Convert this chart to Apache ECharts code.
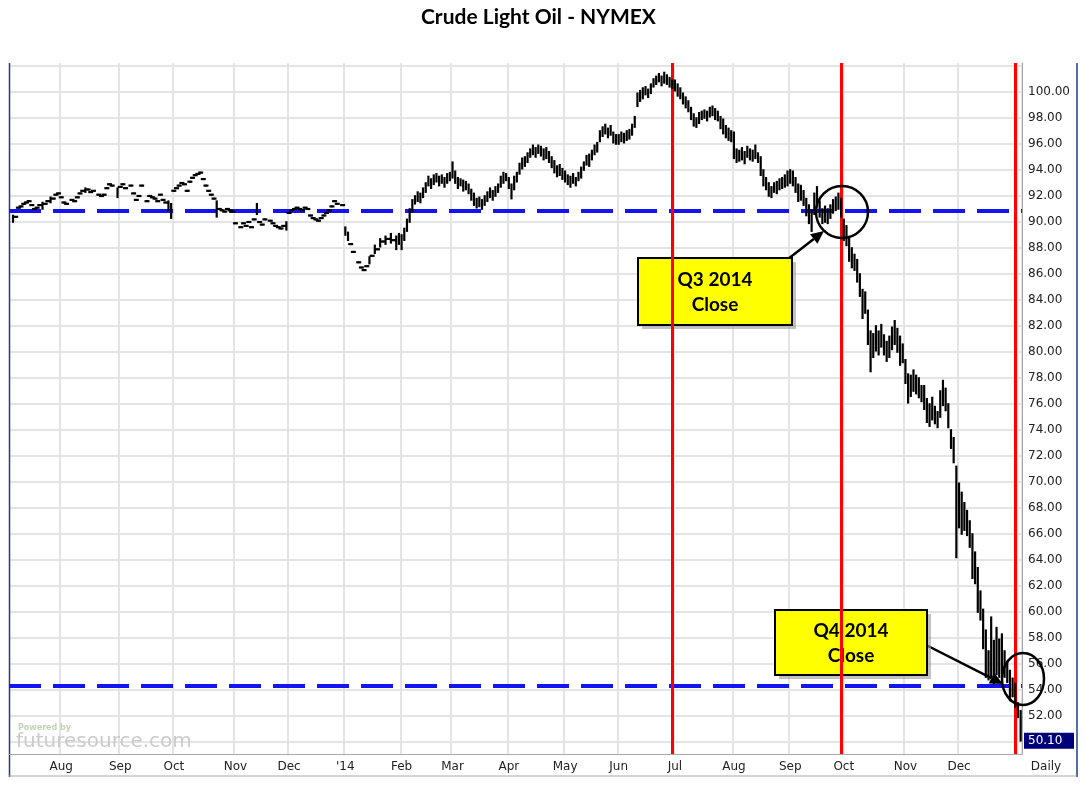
<!DOCTYPE html>
<html>
<head>
<meta charset="utf-8">
<title>Crude Light Oil - NYMEX</title>
<script src="https://cdn.jsdelivr.net/npm/echarts@6/dist/echarts.min.js"></script>
<style>
html, body { margin: 0; padding: 0; background: #fff; }
#main { width: 1086px; height: 785px; }
</style>
</head>
<body>
<div id="main"></div>
<script>
// daily bars per month: number = single print, [low, high] = range, null = no trade
var jul13 = [null, [90.0, 90.5], 90.4, 91.1, 91.2, 91.4, 91.5, 91.6, 91.3, 91.0, 91.1, 91.3, [91.0, 91.5], 91.4, 91.6, [91.5, 91.9], 91.8, 92.1, 92.2];
var aug13 = [91.9, 91.5, 91.4, null, 91.7, 91.6, 91.9, 92.2, 92.4, [92.3, 92.6], 92.5, 92.3, 92.4, null, 92.1, 92.0, 92.1, 92.6, 92.9, 92.8, null, [91.9, 92.6]];
var sep13 = [92.7, 92.9, 92.6, null, 92.8, 92.2, 91.7, 92.0, 92.8, null, 91.6, 92.0, 91.9, 91.8, 91.6, 92.1, 91.7, 91.5, [90.9, 91.6], [90.3, 91.4]];
var oct13 = [92.4, 92.6, 92.8, 93.0, 92.9, 92.4, 93.1, 93.4, 93.6, 93.7, 93.8, 93.3, 92.8, 92.4, 92.1, 91.8, [90.4, 91.6], 91.0, 90.9, 90.8, 91.0, 90.9, 90.8];
var nov13 = [89.9, null, 89.6, 89.9, 89.7, 90.0, 89.6, 90.2, [90.6, 91.4], 90.0, 89.8, 90.2, null, 90.1, 89.9, 89.7, 89.6, 89.5, 89.7, [89.4, 90.0]];
var dec13 = [90.7, 90.9, 91.0, 91.1, 91.0, 90.9, 91.1, 91.0, 90.5, 90.3, 90.2, 90.1, 90.3, 90.5, 90.7, 90.9, 91.2, 91.6, 91.4, null, 91.3];
var jan14 = [[89.0, 89.6], [88.6, 89.2], 88.3, 87.7, null, 86.9, 86.5, 86.3, 86.6, [86.8, 87.3], 87.4, [87.6, 88.2], 87.9, [88.1, 88.7], 88.5, [88.3, 88.9], 88.7, [88.4, 89.1], 88.6, [87.9, 88.9], [88.3, 89.1]];
var feb14 = [[87.9, 89.0], [88.6, 89.5], [89.3, 90.2], [90.0, 91.0], [90.8, 91.7], [91.4, 92.0], [91.6, 92.3], [91.5, 92.2], [91.9, 92.6], [92.3, 93.0], [92.8, 93.5], [92.6, 93.3], [92.9, 93.6], [93.1, 93.7], [92.8, 93.5], [93.0, 93.6], [92.7, 93.4], [93.0, 93.7], [93.2, 93.8]];
var mar14 = [[93.4, 94.6], [93.0, 93.9], [92.6, 93.4], [92.8, 93.3], [92.4, 93.2], [92.5, 93.1], [92.2, 92.9], [91.7, 92.5], [91.3, 92.2], [91.1, 91.8], [91.2, 91.9], [91.0, 91.7], [91.3, 92.0], [91.6, 92.3], [91.9, 92.6], [91.7, 92.4], [92.0, 92.7], [92.3, 92.9], [92.7, 93.5], [93.0, 93.8], [93.2, 93.7]];
var apr14 = [[92.6, 93.4], [91.8, 92.9], [92.5, 93.5], [93.1, 93.8], [93.7, 94.5], [94.1, 94.9], [94.3, 95.0], [94.6, 95.3], [95.0, 95.6], [95.2, 95.9], [95.0, 95.7], [95.3, 95.9], [95.1, 95.8], [94.8, 95.6], [94.9, 95.7], [94.6, 95.4], [94.2, 95.0], [93.8, 94.7], [93.5, 94.3], [93.6, 94.4], [93.3, 94.1]];
var may14 = [[93.1, 93.9], [92.9, 93.6], [92.7, 93.5], [93.0, 93.7], [92.8, 93.4], [93.2, 93.8], [93.4, 94.2], [94.0, 94.6], [94.4, 95.1], [94.3, 95.2], [94.8, 95.5], [95.2, 95.9], [95.4, 96.1], [96.2, 97.0], [96.6, 97.3], [96.8, 97.5], [96.5, 97.2], [96.7, 97.4], [96.1, 96.9], [96.0, 96.7]];
var jun14 = [[96.0, 96.7], [96.2, 96.9], [96.1, 96.8], [96.3, 97.0], [96.4, 97.1], [96.7, 97.5], [97.3, 98.1], [98.9, 99.9], [99.3, 100.1], [99.5, 100.3], [99.8, 100.4], [99.6, 100.2], [99.9, 100.6], [100.4, 101.0], [100.6, 101.2], [100.8, 101.4], [100.5, 101.2], [100.7, 101.5], [100.6, 101.3], [100.4, 101.1], [100.3, 100.9]];
var jul14 = [[100.1, 100.9], [99.7, 100.6], [99.5, 100.3], [99.1, 99.9], [98.8, 99.6], [98.5, 99.3], [97.9, 98.8], [97.4, 98.3], [97.3, 98.0], [97.6, 98.4], [97.9, 98.5], [98.0, 98.6], [97.8, 98.5], [98.1, 98.8], [98.2, 98.9], [97.9, 98.7], [97.8, 98.5], [97.2, 98.1], [96.8, 97.9], [96.5, 97.4], [96.3, 97.2], [96.2, 97.0]];
var aug14 = [[94.9, 96.9], [94.6, 95.6], [94.7, 95.5], [94.8, 95.7], [94.5, 95.4], [95.0, 95.8], [94.8, 95.6], [94.7, 95.5], [94.9, 95.9], [94.6, 95.3], [93.6, 95.0], [92.8, 94.0], [92.5, 93.4], [92.0, 93.0], [91.9, 92.7], [92.3, 93.0], [92.2, 93.1], [92.5, 93.3], [92.6, 93.4], [92.7, 93.6], [92.8, 93.9]];
var sep14 = [[93.0, 94.0], [92.8, 93.9], [92.3, 93.4], [91.6, 92.9], [91.7, 92.8], [91.3, 92.4], [90.5, 91.8], [89.9, 91.3], [89.3, 90.9], [90.6, 92.2], [91.2, 92.7], [90.4, 91.6], [89.9, 91.0], [90.0, 91.2], [89.9, 91.0], [90.3, 91.3], [90.7, 91.7], [90.9, 91.9], [91.0, 92.2], [90.4, 91.8]];
var oct14 = [[88.6, 90.2], [88.2, 89.7], [87.0, 88.8], [86.5, 88.0], [86.3, 87.5], [85.4, 87.1], [84.3, 86.0], [82.6, 84.8], [83.0, 84.6], [80.6, 83.2], [78.5, 81.6], [79.6, 81.4], [80.1, 82.0], [79.8, 81.6], [80.4, 82.1], [79.8, 81.3], [79.3, 80.8], [79.6, 81.2], [80.2, 81.9], [80.6, 82.4], [80.0, 81.8], [79.0, 81.2], [79.2, 80.6]];
var nov14 = [[77.6, 79.4], [76.1, 78.3], [76.6, 78.2], [77.0, 78.6], [76.8, 78.2], [76.5, 78.0], [76.2, 77.4], [75.6, 77.4], [74.6, 76.4], [74.3, 76.0], [74.8, 76.5], [74.5, 75.8], [74.2, 75.4], [75.0, 77.0], [75.9, 77.8], [75.5, 77.2], [74.2, 76.0], [72.6, 74.0], [71.5, 73.4], [64.2, 71.2]];
var dec14 = [[66.5, 69.9], [66.0, 69.2], [66.3, 68.4], [65.9, 67.8], [65.0, 67.0], [62.6, 66.0], [62.2, 64.6], [60.0, 63.4], [59.4, 61.6], [57.2, 60.2], [55.0, 58.6], [54.8, 57.0], [55.0, 59.6], [54.5, 57.8], [55.2, 58.8], [55.0, 57.9], [55.3, 58.3], [55.0, 57.0], [54.6, 56.2], [53.2, 55.5], [53.5, 54.9], [52.7, 54.5]];
var jan15 = [[51.9, 53.0], [50.1, 52.4]];

var months = [
    {y: 2013, m: 7, from: 5, bars: jul13}, {y: 2013, m: 8, bars: aug13}, {y: 2013, m: 9, bars: sep13},
    {y: 2013, m: 10, bars: oct13}, {y: 2013, m: 11, bars: nov13}, {y: 2013, m: 12, bars: dec13},
    {y: 2014, m: 1, bars: jan14}, {y: 2014, m: 2, bars: feb14}, {y: 2014, m: 3, bars: mar14},
    {y: 2014, m: 4, bars: apr14}, {y: 2014, m: 5, bars: may14}, {y: 2014, m: 6, bars: jun14},
    {y: 2014, m: 7, bars: jul14}, {y: 2014, m: 8, bars: aug14}, {y: 2014, m: 9, bars: sep14},
    {y: 2014, m: 10, bars: oct14}, {y: 2014, m: 11, bars: nov14}, {y: 2014, m: 12, bars: dec14},
    {y: 2015, m: 1, to: 5, bars: jan15}
];
// exchange holidays plus the two sessions missing from this contract's history
var noSession = ['2013-07-04', '2013-09-02', '2013-11-28', '2013-12-25', '2014-01-01', '2014-01-20',
    '2014-02-17', '2014-04-18', '2014-05-26', '2014-05-30', '2014-07-04', '2014-09-01', '2014-09-12',
    '2014-12-25', '2015-01-01'];
var monthNames = ['Jan', 'Feb', 'Mar', 'Apr', 'May', 'Jun', 'Jul', 'Aug', 'Sep', 'Oct', 'Nov', 'Dec'];

var priceTicks = [50, 52, 54, 56, 58, 60, 62, 64, 66, 68, 70, 72, 74, 76, 78, 80, 82, 84, 86, 88, 90, 92, 94, 96, 98, 100, 102];
var priceLabels = [52, 54, 56, 58, 60, 62, 64, 66, 68, 70, 72, 74, 76, 78, 80, 82, 84, 86, 88, 90, 92, 94, 96, 98, 100];
var q3Level = 90.85;
var q4Level = 54.3;
var quarterEnds = ['2014-06-30', '2014-09-30', '2014-12-31'];
var lastPrice = 50.10;

function pad(n) { return n < 10 ? '0' + n : '' + n; }

// trading days of each month, bars matched to them in order
var dates = [];
var bars = [];
months.forEach(function (mo) {
    var last = new Date(mo.y, mo.m, 0).getDate();
    for (var d = mo.from || 1, i = 0; d <= (mo.to || last); d++) {
        var wd = new Date(mo.y, mo.m - 1, d).getDay();
        var key = mo.y + '-' + pad(mo.m) + '-' + pad(d);
        if (wd === 0 || wd === 6 || noSession.indexOf(key) >= 0) continue;
        var idx = dates.length;
        dates.push(key);
        var b = mo.bars[i++];
        if (b == null) continue;
        if (Array.isArray(b)) bars.push([idx, b[0], b[1]]);
        else bars.push([idx, b, b]);
    }
});

function isMonthStart(index) {
    if (index === 0) return false;
    return dates[index].slice(0, 7) !== dates[index - 1].slice(0, 7);
}

function renderBar(params, api) {
    var lo = api.coord([api.value(0), api.value(1)]);
    var hi = api.coord([api.value(0), api.value(2)]);
    var style = {stroke: '#000', lineWidth: 2.2};
    var kids = [{type: 'line', shape: {x1: lo[0], y1: lo[1] + 0.8, x2: hi[0], y2: hi[1] - 0.8}, style: style}];
    if (api.value(2) - api.value(1) < 0.15) {
        kids.push({type: 'line', shape: {x1: lo[0] - 2.5, y1: lo[1], x2: lo[0] + 2.5, y2: lo[1]}, style: style});
    }
    return {type: 'group', children: kids};
}

function arrow(x1, y1, x2, y2) {
    var a = Math.atan2(y2 - y1, x2 - x1), len = 13, w = 6;
    var bx = x2 - len * Math.cos(a), by = y2 - len * Math.sin(a);
    return {
        type: 'group', z: 30,
        children: [
            {type: 'line', shape: {x1: x1, y1: y1, x2: bx, y2: by}, style: {stroke: '#000', lineWidth: 2.5}},
            {type: 'polygon', shape: {points: [[x2, y2],
                [bx + w * Math.sin(a), by - w * Math.cos(a)],
                [bx - w * Math.sin(a), by + w * Math.cos(a)]]}, style: {fill: '#000'}}
        ]
    };
}

function callout(x, y, w, h, line1) {
    var font = 'bold 19px Lato, "Open Sans", sans-serif';
    return {
        type: 'group', z: 30,
        children: [
            {type: 'rect', shape: {x: x + 4, y: y + 4, width: w, height: h}, style: {fill: '#9a9a9a', opacity: 0.6}},
            {type: 'rect', shape: {x: x, y: y, width: w, height: h}, style: {fill: '#ffff00', stroke: '#000', lineWidth: 2}},
            {type: 'text', x: x + w / 2, y: y + h / 2 - 12, style: {text: line1, font: font, fill: '#000', align: 'center', verticalAlign: 'middle'}},
            {type: 'text', x: x + w / 2, y: y + h / 2 + 13, style: {text: 'Close', font: font, fill: '#000', align: 'center', verticalAlign: 'middle'}}
        ]
    };
}

var myChart = echarts.init(document.getElementById('main'));
var axisFont = {fontFamily: '"DejaVu Sans", sans-serif', fontSize: 12, color: '#222'};

option = {
    animation: false,
    backgroundColor: '#fff',
    title: {
        text: 'Crude Light Oil - NYMEX',
        left: 416, top: 2,
        textStyle: {fontFamily: 'Lato, "Open Sans", sans-serif', fontWeight: 'bold', fontSize: 21, color: '#000'}
    },
    grid: {left: 9, right: 64, top: 63, bottom: 31},
    xAxis: {
        type: 'category',
        data: dates,
        boundaryGap: true,
        axisLine: {show: true, lineStyle: {color: '#a8a8a8', width: 1}},
        axisTick: {show: false, interval: isMonthStart},
        axisLabel: Object.assign({
            interval: isMonthStart,
            margin: 7,
            formatter: function (v) {
                var y = +v.slice(0, 4), m = +v.slice(5, 7);
                if (y === 2015) return '';
                if (m === 1) return "'" + String(y).slice(2);
                return monthNames[m - 1];
            }
        }, axisFont),
        splitLine: {show: true, interval: isMonthStart, lineStyle: {color: '#e4e4e4', width: 2}}
    },
    yAxis: {
        type: 'value',
        position: 'right',
        min: 49.08,
        max: 102.23,
        axisLine: {show: true, lineStyle: {color: '#a8a8a8', width: 1}},
        axisTick: {show: false, customValues: priceTicks},
        axisLabel: Object.assign({
            customValues: priceLabels,
            margin: 6,
            formatter: function (v) { return v.toFixed(2); }
        }, axisFont),
        splitLine: {show: true, lineStyle: {color: '#e4e4e4', width: 2}}
    },
    series: [
        {
            type: 'custom',
            renderItem: renderBar,
            data: bars,
            encode: {x: 0, y: [1, 2]},
            clip: true,
            z: 5
        },
        {
            type: 'line',
            data: [],
            z: 10,
            markLine: {
                silent: true,
                symbol: 'none',
                label: {show: false},
                data: [
                    {yAxis: q3Level, lineStyle: {color: '#1414f0', width: 4, type: [32, 12]}},
                    {yAxis: q4Level, lineStyle: {color: '#1414f0', width: 4, type: [32, 12]}}
                ]
            }
        },
        {
            type: 'line',
            data: [],
            z: 12,
            markLine: {
                silent: true,
                symbol: 'none',
                label: {show: false},
                lineStyle: {color: '#ff0000', width: 3, type: 'solid'},
                data: quarterEnds.map(function (d) { return {xAxis: d}; })
            }
        }
    ]
};

if (option && typeof option === 'object') {
    myChart.setOption(option, true);
}

// frame, price tag, watermark and the hand-drawn notes
var tagY = myChart.convertToPixel({yAxisIndex: 0}, lastPrice);
myChart.setOption({
    graphic: [
        {type: 'line', shape: {x1: 9.5, y1: 63, x2: 9.5, y2: 777}, style: {stroke: '#1f3f7f', lineWidth: 1.5}},
        {type: 'line', shape: {x1: 1077, y1: 63, x2: 1077, y2: 777}, style: {stroke: '#1f3f7f', lineWidth: 1.5}},
        {type: 'line', shape: {x1: 9, y1: 776, x2: 1077, y2: 776}, style: {stroke: '#a8a8a8', lineWidth: 1}},
        {type: 'text', x: 18, y: 724, z: 3, style: {text: 'Powered by', font: 'bold 8px "DejaVu Sans", sans-serif', fill: '#c3d3b3'}},
        {type: 'text', x: 16, y: 732, z: 3, style: {text: 'futuresource.com', font: '20px "DejaVu Sans", sans-serif', fill: '#cbcbcb'}},
        {
            type: 'group', z: 20,
            children: [
                {type: 'rect', shape: {x: 1024, y: tagY - 8, width: 50, height: 16}, style: {fill: '#00007a'}},
                {type: 'text', x: 1028, y: tagY, style: {text: lastPrice.toFixed(2), font: '12px "DejaVu Sans", sans-serif', fill: '#fff', verticalAlign: 'middle'}}
            ]
        },
        {type: 'text', x: 1046, y: 767, style: {text: 'Daily', font: '12px "DejaVu Sans", sans-serif', fill: '#222', align: 'center', verticalAlign: 'middle'}},
        {type: 'circle', z: 30, shape: {cx: 842, cy: 212, r: 26}, style: {fill: 'none', stroke: '#000', lineWidth: 2.5}},
        {type: 'ellipse', z: 30, shape: {cx: 1023, cy: 679, rx: 21, ry: 26}, style: {fill: 'none', stroke: '#000', lineWidth: 2.5}},
        arrow(788, 259, 824, 231),
        arrow(926, 645, 1003, 684),
        callout(638, 258, 154, 67, 'Q3 2014'),
        callout(775, 610, 152, 65, 'Q4 2014')
    ]
});
</script>
</body>
</html>
